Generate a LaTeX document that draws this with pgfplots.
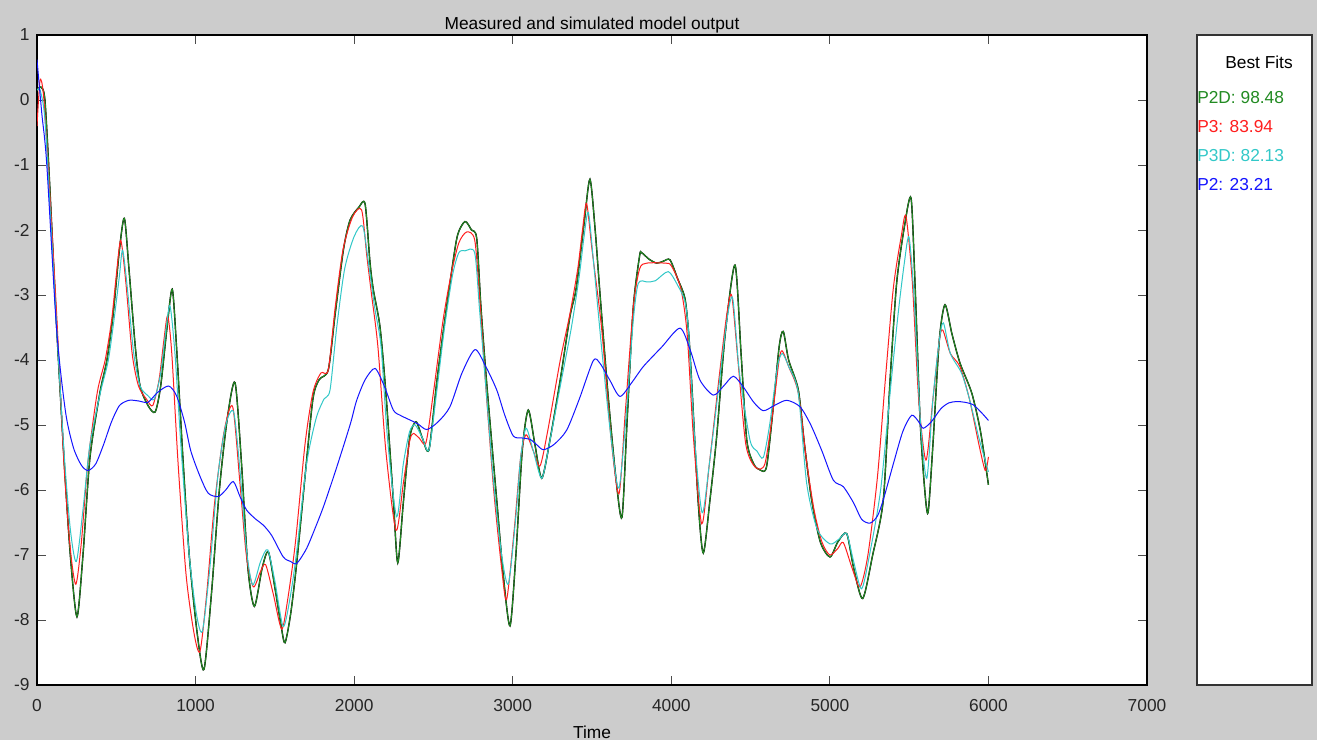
\documentclass[border=0pt]{standalone}
\usepackage{fontspec}
\setmainfont{Liberation Sans}
\usepackage{pgfplots}
\usepackage{pgfplotstable}
\pgfplotsset{compat=1.18}
\definecolor{bgray}{RGB}{204,204,204}
\definecolor{fitgreen}{RGB}{34,139,34}
\definecolor{fitred}{RGB}{255,30,30}
\definecolor{fitcyan}{RGB}{50,200,200}
\definecolor{fitblue}{RGB}{20,20,255}

% P2D (best fit, close to the measured output)
\pgfplotstableread{
t y
0 0.15
25 0.2
50 0.0
80 -1.3
124 -3.5
170 -5.5
210 -7.0
252 -7.95
290 -7.0
334 -5.5
397 -4.5
441 -4.0
480 -3.3
520 -2.3
551 -1.82
580 -2.6
620 -3.8
650 -4.4
700 -4.7
745 -4.8
780 -4.4
820 -3.5
853 -2.91
880 -3.8
920 -5.5
960 -7.0
1010 -8.2
1053 -8.76
1100 -7.6
1150 -6.0
1200 -4.9
1249 -4.35
1290 -5.6
1330 -7.2
1371 -7.79
1420 -7.2
1459 -6.95
1500 -7.5
1540 -8.1
1564 -8.35
1600 -7.9
1638 -7.12
1690 -5.8
1740 -4.6
1780 -4.3
1837 -4.15
1880 -3.3
1932 -2.31
1974 -1.85
2030 -1.65
2069 -1.6
2100 -2.5
2121 -2.92
2163 -3.49
2200 -4.5
2247 -6.15
2275 -7.12
2310 -6.2
2350 -5.2
2390 -4.95
2430 -5.2
2472 -5.38
2520 -4.36
2560 -3.6
2604 -2.82
2650 -2.1
2699 -1.87
2740 -2.0
2773 -2.13
2800 -3.2
2836 -4.36
2899 -6.15
2940 -7.3
2983 -8.09
3020 -7.0
3060 -5.4
3098 -4.77
3140 -5.3
3183 -5.82
3235 -5.23
3300 -4.3
3361 -3.33
3400 -2.9
3450 -1.9
3487 -1.22
3520 -2.0
3550 -2.97
3600 -4.5
3650 -5.8
3689 -6.42
3720 -5.0
3760 -3.2
3800 -2.4
3813 -2.35
3860 -2.45
3908 -2.51
3950 -2.48
3992 -2.46
4040 -2.75
4086 -3.05
4110 -3.6
4129 -4.36
4170 -6.2
4202 -6.97
4244 -6.15
4286 -5.18
4340 -3.6
4402 -2.54
4440 -3.9
4476 -5.23
4520 -5.6
4559 -5.69
4600 -5.65
4640 -4.8
4680 -3.8
4706 -3.56
4740 -4.0
4801 -4.46
4840 -5.3
4885 -6.15
4940 -6.8
5001 -7.03
5050 -6.8
5106 -6.67
5150 -7.2
5207 -7.67
5270 -7.0
5337 -6.15
5380 -4.3
5421 -2.82
5470 -1.95
5512 -1.51
5537 -2.82
5568 -4.87
5595 -5.9
5619 -6.35
5650 -5.3
5690 -3.7
5726 -3.15
5770 -3.6
5821 -4.05
5895 -4.51
5950 -5.1
6000 -5.92
}\ptwod

% P3
\pgfplotstableread{
t y
0 -0.4
19 0.3
40 0.1
70 -1.0
124 -3.3
170 -5.6
210 -6.9
245 -7.45
280 -6.8
320 -5.6
380 -4.5
430 -4.0
470 -3.4
500 -2.7
528 -2.16
560 -2.8
600 -3.9
640 -4.4
690 -4.6
730 -4.7
770 -4.3
800 -3.7
824 -3.32
850 -3.9
890 -5.6
940 -7.3
990 -8.2
1028 -8.48
1070 -7.6
1120 -6.2
1180 -5.1
1234 -4.72
1280 -5.9
1320 -7.0
1364 -7.49
1410 -7.25
1442 -7.15
1490 -7.6
1543 -8.14
1580 -7.7
1630 -6.8
1690 -5.3
1740 -4.5
1790 -4.2
1837 -4.15
1880 -3.2
1930 -2.3
1990 -1.8
2047 -1.69
2080 -2.4
2110 -3.0
2150 -3.8
2200 -5.4
2264 -6.62
2310 -5.9
2350 -5.25
2373 -5.13
2410 -5.2
2453 -5.27
2500 -4.5
2560 -3.4
2610 -2.7
2660 -2.2
2710 -2.03
2760 -2.15
2790 -3.0
2830 -4.4
2880 -6.0
2930 -7.2
2962 -7.68
3010 -6.6
3050 -5.5
3084 -5.15
3130 -5.4
3172 -5.63
3220 -5.1
3300 -4.0
3360 -3.3
3410 -2.6
3440 -2.0
3466 -1.59
3500 -2.3
3560 -3.5
3620 -5.2
3670 -6.06
3710 -4.8
3760 -3.2
3800 -2.6
3845 -2.51
3960 -2.51
4000 -2.55
4060 -2.9
4100 -3.6
4140 -5.2
4192 -6.52
4240 -5.6
4300 -4.3
4350 -3.3
4381 -3.01
4420 -4.0
4470 -5.3
4530 -5.65
4590 -5.6
4640 -4.8
4680 -4.0
4700 -3.86
4740 -4.1
4800 -4.5
4850 -5.5
4900 -6.3
4950 -6.8
5000 -7.0
5050 -6.9
5085 -6.81
5140 -7.2
5190 -7.49
5240 -7.0
5300 -5.8
5350 -4.3
5400 -2.9
5450 -2.1
5480 -1.79
5520 -2.8
5560 -4.6
5606 -5.54
5650 -4.6
5690 -3.7
5712 -3.54
5760 -3.9
5820 -4.1
5880 -4.6
5940 -5.3
5980 -5.7
6000 -5.49
}\pthree

% P3D
\pgfplotstableread{
t y
0 0.15
20 0.15
50 -0.3
90 -2.0
124 -3.5
170 -5.4
210 -6.6
248 -7.1
290 -6.3
334 -5.3
400 -4.5
450 -4.0
490 -3.3
520 -2.7
540 -2.31
570 -2.9
610 -3.9
650 -4.4
700 -4.55
740 -4.6
780 -4.2
815 -3.5
839 -3.17
870 -3.9
910 -5.4
960 -7.0
1005 -7.9
1043 -8.17
1090 -7.2
1140 -5.8
1190 -5.0
1240 -4.8
1280 -5.7
1320 -6.9
1360 -7.46
1410 -7.1
1455 -6.92
1500 -7.4
1553 -8.1
1600 -7.6
1640 -6.9
1700 -5.6
1760 -4.9
1810 -4.6
1848 -4.46
1890 -3.5
1940 -2.6
2000 -2.1
2054 -1.94
2090 -2.5
2130 -3.2
2170 -3.8
2210 -5.2
2268 -6.41
2310 -5.6
2350 -5.1
2385 -5.0
2430 -5.2
2472 -5.38
2520 -4.5
2570 -3.5
2620 -2.7
2660 -2.35
2700 -2.32
2760 -2.35
2790 -3.2
2830 -4.4
2880 -5.9
2930 -7.0
2973 -7.44
3020 -6.4
3050 -5.5
3084 -5.05
3130 -5.4
3183 -5.82
3230 -5.3
3300 -4.4
3370 -3.5
3420 -2.7
3450 -2.1
3477 -1.73
3510 -2.5
3560 -3.8
3620 -5.2
3670 -5.97
3720 -4.7
3760 -3.4
3792 -2.82
3850 -2.8
3900 -2.78
3981 -2.64
4040 -2.85
4086 -3.1
4110 -3.6
4150 -5.3
4195 -6.35
4240 -5.6
4300 -4.4
4350 -3.4
4387 -3.05
4430 -4.2
4496 -5.23
4540 -5.4
4580 -5.5
4620 -5.0
4670 -4.1
4700 -3.9
4740 -4.1
4800 -4.5
4854 -5.9
4920 -6.6
5001 -6.83
5060 -6.75
5106 -6.67
5150 -7.1
5200 -7.52
5250 -7.0
5320 -6.0
5380 -4.5
5430 -3.3
5470 -2.5
5499 -2.11
5530 -3.0
5570 -4.9
5611 -5.82
5650 -4.6
5690 -3.7
5716 -3.43
5760 -3.9
5830 -4.2
5880 -4.6
5940 -5.2
6000 -5.72
}\pthreed

% P2
\pgfplotstableread{
t y
0 0.62
30 -0.2
61 -0.97
124 -3.54
180 -4.8
230 -5.35
280 -5.62
322 -5.7
370 -5.6
420 -5.3
470 -4.95
520 -4.7
580 -4.62
640 -4.63
700 -4.65
760 -4.5
830 -4.4
880 -4.55
930 -4.95
970 -5.4
1028 -5.79
1080 -6.05
1143 -6.1
1190 -6.0
1238 -5.87
1280 -6.1
1322 -6.31
1380 -6.45
1427 -6.54
1480 -6.7
1553 -7.03
1600 -7.1
1638 -7.13
1700 -6.9
1760 -6.55
1806 -6.26
1870 -5.8
1932 -5.33
1980 -4.95
2016 -4.62
2070 -4.3
2132 -4.13
2190 -4.4
2247 -4.77
2290 -4.85
2332 -4.9
2400 -4.98
2458 -5.07
2530 -4.95
2604 -4.72
2680 -4.2
2762 -3.84
2830 -4.1
2899 -4.46
2950 -4.85
3004 -5.17
3060 -5.2
3109 -5.22
3150 -5.3
3193 -5.38
3260 -5.3
3340 -5.08
3420 -4.6
3508 -4.01
3550 -4.05
3610 -4.3
3676 -4.56
3750 -4.35
3824 -4.1
3940 -3.8
4055 -3.51
4120 -3.85
4181 -4.31
4265 -4.54
4330 -4.4
4391 -4.25
4450 -4.4
4520 -4.65
4580 -4.78
4650 -4.7
4728 -4.62
4812 -4.72
4880 -5.0
4950 -5.4
5022 -5.85
5085 -5.95
5150 -6.2
5200 -6.45
5253 -6.51
5300 -6.4
5337 -6.15
5400 -5.6
5460 -5.1
5516 -4.85
5560 -4.95
5589 -5.05
5640 -4.95
5700 -4.75
5750 -4.66
5800 -4.64
5850 -4.65
5905 -4.69
5960 -4.82
6000 -4.93
}\ptwo

\begin{document}
\fontsize{13}{15.6}\selectfont
\begin{tikzpicture}
\fill[bgray] (0pt,0pt) rectangle (987.75pt,555pt);
% side panel with the fit values
\draw[fill=white,draw=black!80,line width=0.9pt] (897.75pt,41.25pt) rectangle (984pt,528.75pt);
\node at (944.25pt,508.5pt) {Best Fits};
\node[anchor=west,text=fitgreen,inner sep=0pt] at (897.75pt,481.5pt) {P2D: 98.48};
\node[anchor=west,text=fitred,inner sep=0pt] at (897.75pt,459.75pt) {P3: 83.94};
\node[anchor=west,text=fitcyan,inner sep=0pt] at (897.75pt,438pt) {P3D: 82.13};
\node[anchor=west,text=fitblue,inner sep=0pt] at (897.75pt,416.25pt) {P2: 23.21};
\begin{axis}[
  at={(27.75pt,41.25pt)},anchor=south west,
  scale only axis,width=832.5pt,height=487.5pt,
  xmin=0,xmax=7000,ymin=-9,ymax=1,
  xtick={0,1000,...,7000},ytick={-9,-8,...,1},
  tick align=inside,major tick length=7pt,
  tick style={black!70,line width=0.7pt},
  axis line style={black,line width=0.9pt},
  axis background/.style={fill=white},
  /pgf/number format/assume math mode=true,
  /pgf/number format/1000 sep={},
  tick label style={font=\fontsize{13}{15.6}\selectfont,text=black!85},
  xticklabel style={yshift=-6pt},
  yticklabel style={xshift=-1pt},
  title={Measured and simulated model output},
  title style={font=\fontsize{13}{15.6}\selectfont,yshift=-8.75pt},
  xlabel={Time},
  xlabel style={font=\fontsize{13}{15.6}\selectfont,yshift=-2pt},
  every axis plot/.append style={line width=0.75pt,smooth,tension=0.45},
]
\addplot[black,line width=1.05pt] table[x=t,y=y] {\ptwod};
\addplot[fitgreen] table[x=t,y=y] {\ptwod};
\addplot[fitred] table[x=t,y=y] {\pthree};
\addplot[fitcyan] table[x=t,y=y] {\pthreed};
\addplot[fitblue] table[x=t,y=y] {\ptwo};
\end{axis}
\end{tikzpicture}
\end{document}
